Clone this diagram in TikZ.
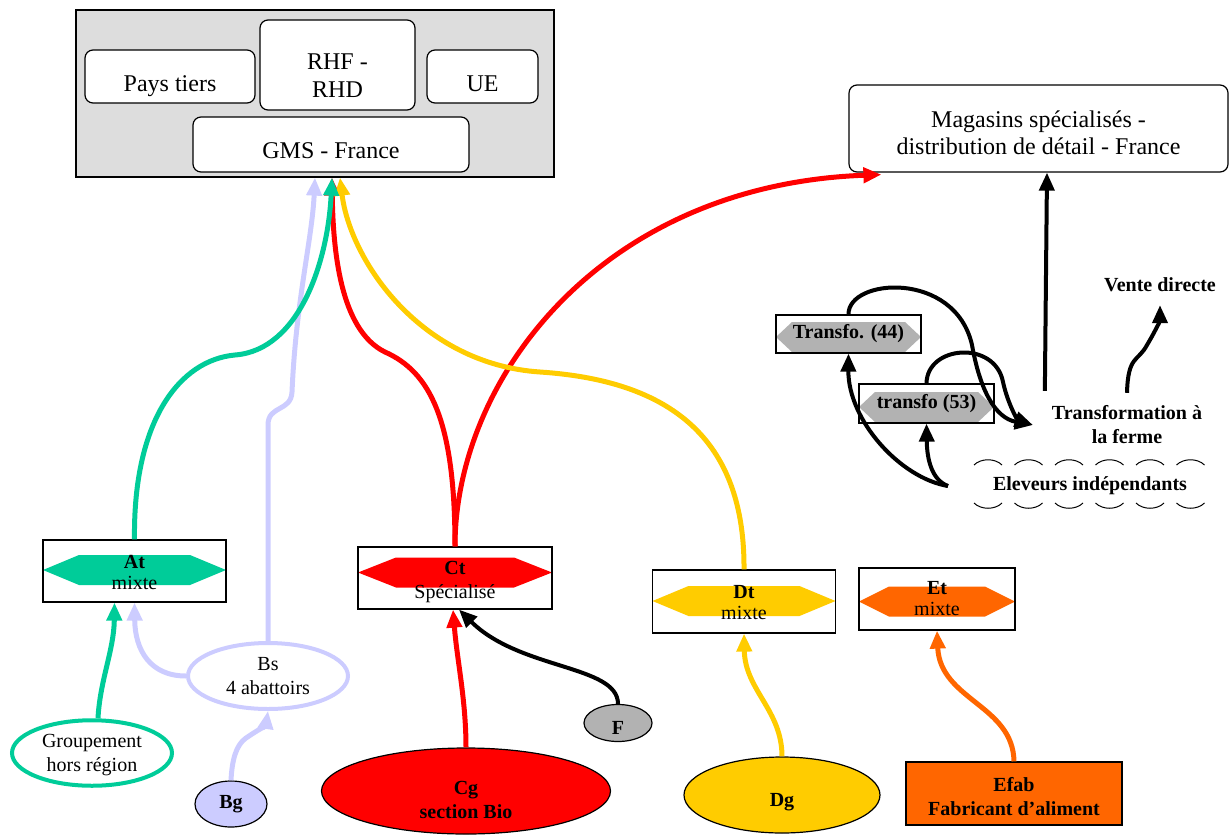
\documentclass[tikz,border=0pt]{standalone}
\usepackage{fontspec}
\setmainfont{Liberation Serif}
\usetikzlibrary{arrows.meta,shapes.geometric,calc}
\begin{document}
\begin{tikzpicture}[x=0.5pt,y=-0.5pt,
    box/.style={draw, line width=0.6pt, inner sep=0pt},
    rbox/.style={box, fill=white, rounded corners=4pt, font=\fontsize{12}{14}\selectfont},
    hexbox/.style n args={3}{box, fill=white, align=center, font=\fontsize{10}{10.5}\selectfont,
      path picture={
        \fill [#1] ($(path picture bounding box.west)+(0pt,#3)$)
          -- ($(path picture bounding box.west)+(#2,{7.5pt+(#3)})$)
          -- ($(path picture bounding box.east)+(-#2,{7.5pt+(#3)})$)
          -- ($(path picture bounding box.east)+(0pt,#3)$)
          -- ($(path picture bounding box.east)+(-#2,{-7.5pt+(#3)})$)
          -- ($(path picture bounding box.west)+(#2,{-7.5pt+(#3)})$) -- cycle;}},
    oval/.style={ellipse, draw, line width=0.6pt, inner sep=0pt, align=center, font=\bfseries},
    ring/.style={ellipse, draw=#1, line width=2pt, fill=white, inner sep=0pt, align=center},
    flow/.style={line width=2pt, -{Triangle[width=7.5pt,length=9pt]}},
    cflow/.style={flow, line width=2.5pt, draw=#1}]
\useasboundingbox (0,0) rectangle (1231,835);
{\fontsize{10}{12}\selectfont

% Changing colors
\definecolor{greybox}{RGB}{221,221,221}%
\definecolor{atgreen}{RGB}{0,204,153}%
\definecolor{bsblue}{RGB}{204,204,255}%
\definecolor{ctred}{RGB}{255,0,0}%
\definecolor{dtyellow}{RGB}{255,204,0}%
\definecolor{etorange}{RGB}{255,102,0}%
\definecolor{hexgrey}{RGB}{178,178,178}%

% Drawing outlets
\node [box, fill=greybox, minimum width=239pt, minimum height=83.5pt] (clients) at (315,93.5) {};%
\node [rbox, minimum width=85pt, minimum height=26.5pt, text height=15pt, text depth=0pt] (pays) at (170,76.5) {Pays tiers};%
\node [rbox, minimum width=77.5pt, minimum height=45pt, align=center] (rhf) at (337.5,65) {\rule{0pt}{19pt}RHF -\\RHD};%
\node [rbox, minimum width=55.5pt, minimum height=26.5pt, text height=15pt, text depth=0pt] (ue) at (482.5,76.5) {UE};%
\node [rbox, minimum width=138pt, minimum height=27.5pt, text height=13.5pt, text depth=0pt] (gms) at (331,144.5) {GMS - France};%
\node [rbox, minimum width=189.5pt, minimum height=43.5pt, align=center, font=\fontsize{12}{13.5}\selectfont] (magasins) at (1038.5,128.5) {\rule{0pt}{13pt}Magasins spécialisés -\\distribution de détail - France};%

% Drawing slaughter boxes
\node [hexbox={atgreen}{18pt}{0.5pt}, minimum width=91.5pt, minimum height=31pt] (at) at (134.5,571) {\rule{0pt}{8pt}\textbf{At}\\mixte};%
\node [hexbox={ctred}{19pt}{2.75pt}, minimum width=97pt, minimum height=31pt] (ct) at (455,578) {\rule{0pt}{10.5pt}\textbf{Ct}\\[1.5pt]Spécialisé};%
\node [hexbox={dtyellow}{18pt}{0.25pt}, minimum width=91.5pt, minimum height=31.5pt] (dt) at (744,601.5) {\rule{0pt}{8pt}\textbf{Dt}\\mixte};%
\node [hexbox={etorange}{15pt}{-1.25pt}, minimum width=78pt, minimum height=31pt] (et) at (937,599) {\textbf{Et}\\mixte};%
\node [hexbox={hexgrey}{8pt}{-1.5pt}, minimum width=72.5pt, minimum height=19pt, font=\bfseries] (transfo44) at (848.5,334) {Transfo. (44)};%
\node [hexbox={hexgrey}{8pt}{-1.75pt}, minimum width=67.5pt, minimum height=19.5pt, font=\bfseries] (transfo53) at (926.5,403.5) {transfo (53)};%

% Drawing producers
\node [ring=bsblue, minimum width=80pt, minimum height=33pt] (bs) at (268,676) {Bs\\4 abattoirs};%
\node [ring=atgreen, minimum width=80pt, minimum height=29pt] (groupement) at (92,753) {\rule{0pt}{9pt}Groupement\\hors région};%
\node [oval, fill=bsblue, minimum width=36pt, minimum height=23pt] (bg) at (231,804) {Bg};%
\node [oval, fill=ctred, minimum width=144.5pt, minimum height=43pt] (cg) at (466,791) {\rule{0pt}{16pt}Cg\\section Bio};%
\node [oval, fill=hexgrey, minimum width=34pt, minimum height=18.5pt, text height=11pt, text depth=0pt] (f) at (618,723) {F};%
\node [oval, fill=dtyellow, minimum width=98pt, minimum height=38pt, text height=11.5pt, text depth=0pt] (dg) at (782,795) {Dg};%
\node [box, fill=etorange, minimum width=108pt, minimum height=31.5pt, align=center, font=\bfseries] (efab) at (1014,793.5) {\rule{0pt}{10pt}Efab\\Fabricant d’aliment};%

% Drawing farm texts
\node [font=\bfseries, align=center] (ferme) at (1127,425) {Transformation à\\la ferme};%
\node [font=\bfseries] (eleveurs) at (1090,486) {Eleveurs indépendants};%
\node [font=\bfseries] (vente) at (1160,285) {Vente directe};%

% Drawing waves round Eleveurs
\foreach \i in {0,...,5}{
  \draw [line width=0.5pt] ({974+40.5*\i},465) .. controls ({981+40.5*\i},458) and ({995+40.5*\i},458) .. ({1002+40.5*\i},465);%
  \draw [line width=0.5pt] ({974+40.5*\i},503) .. controls ({981+40.5*\i},510) and ({995+40.5*\i},510) .. ({1002+40.5*\i},503);%
}

% Drawing arrows Bs Bg
\draw [cflow=bsblue] (bs.north) -- (268,425) .. controls (268,405) and (291,412) .. (292,392) .. controls (296,300) and (312,240) .. (clients.south);%
\draw [cflow=bsblue] (bs.west) .. controls (150,676) and (135,650) .. (at.south);%
\draw [cflow=bsblue] (bg.north) .. controls (232,760) and (236,745) .. (246,738) .. controls (258,730) and (266,725) .. (bs.south);%

% Drawing arrows Ct Cg F
\draw [cflow=ctred] (cg.north) .. controls (466,700) and (457,660) .. ([xshift=-1pt]ct.south);%
\draw [flow] (f.north) .. controls (618,665) and (520,670) .. ([xshift=2pt]ct.south);%
\draw [cflow=ctred] (ct.north) .. controls (455,380) and (600,185) .. ([xshift=16.5pt,yshift=-1pt]magasins.south west);%
\draw [cflow=ctred] (ct.north) .. controls (455,420) and (430,372) .. (385,352) .. controls (340,330) and (333,250) .. ([xshift=8.5pt]clients.south);%

% Drawing arrows Dt Dg Et
\draw [cflow=dtyellow] (dg.north) .. controls (782,710) and (745,690) .. (dt.south);%
\draw [cflow=dtyellow] (dt.north) .. controls (745,430) and (660,380) .. (540,372) .. controls (420,364) and (350,260) .. ([xshift=12.5pt]clients.south);%
\draw [cflow=etorange] (efab.north) .. controls (1013,705) and (940,700) .. (et.south);%

% Drawing arrows At
\draw [cflow=atgreen] ([xshift=3pt]groupement.north) .. controls (100,680) and (114,650) .. ([xshift=-10pt]at.south);%
\draw [cflow=atgreen] (at.north) .. controls (133,420) and (180,360) .. (235,355) .. controls (300,350) and (328,260) .. ([xshift=8.5pt]clients.south);%

% Drawing arrows of the farms
\draw [flow] ([yshift=4pt]ferme.north west) -- ([xshift=4.25pt]magasins.south);%
\draw [flow] ([yshift=3pt]ferme.north) .. controls (1128,355) and (1138,362) .. (1147,345) .. controls (1156,330) and (1160,320) .. ([yshift=-3pt]vente.south);%
\draw [flow] (transfo44.north) .. controls (848,278) and (955,270) .. (972,345) .. controls (980,390) and (995,418) .. ([xshift=-6pt]ferme.west);%
\draw [flow] (transfo53.north) .. controls (927,345) and (995,340) .. (1003,382) .. controls (1008,405) and (1018,420) .. ([xshift=-6pt]ferme.west);%
\draw [flow] ([xshift=-19pt]eleveurs.west) .. controls (900,478) and (848,420) .. (transfo44.south);%
\draw [flow] ([xshift=-19pt]eleveurs.west) .. controls (932,480) and (927,460) .. (transfo53.south);%
}
\end{tikzpicture}
\end{document}
